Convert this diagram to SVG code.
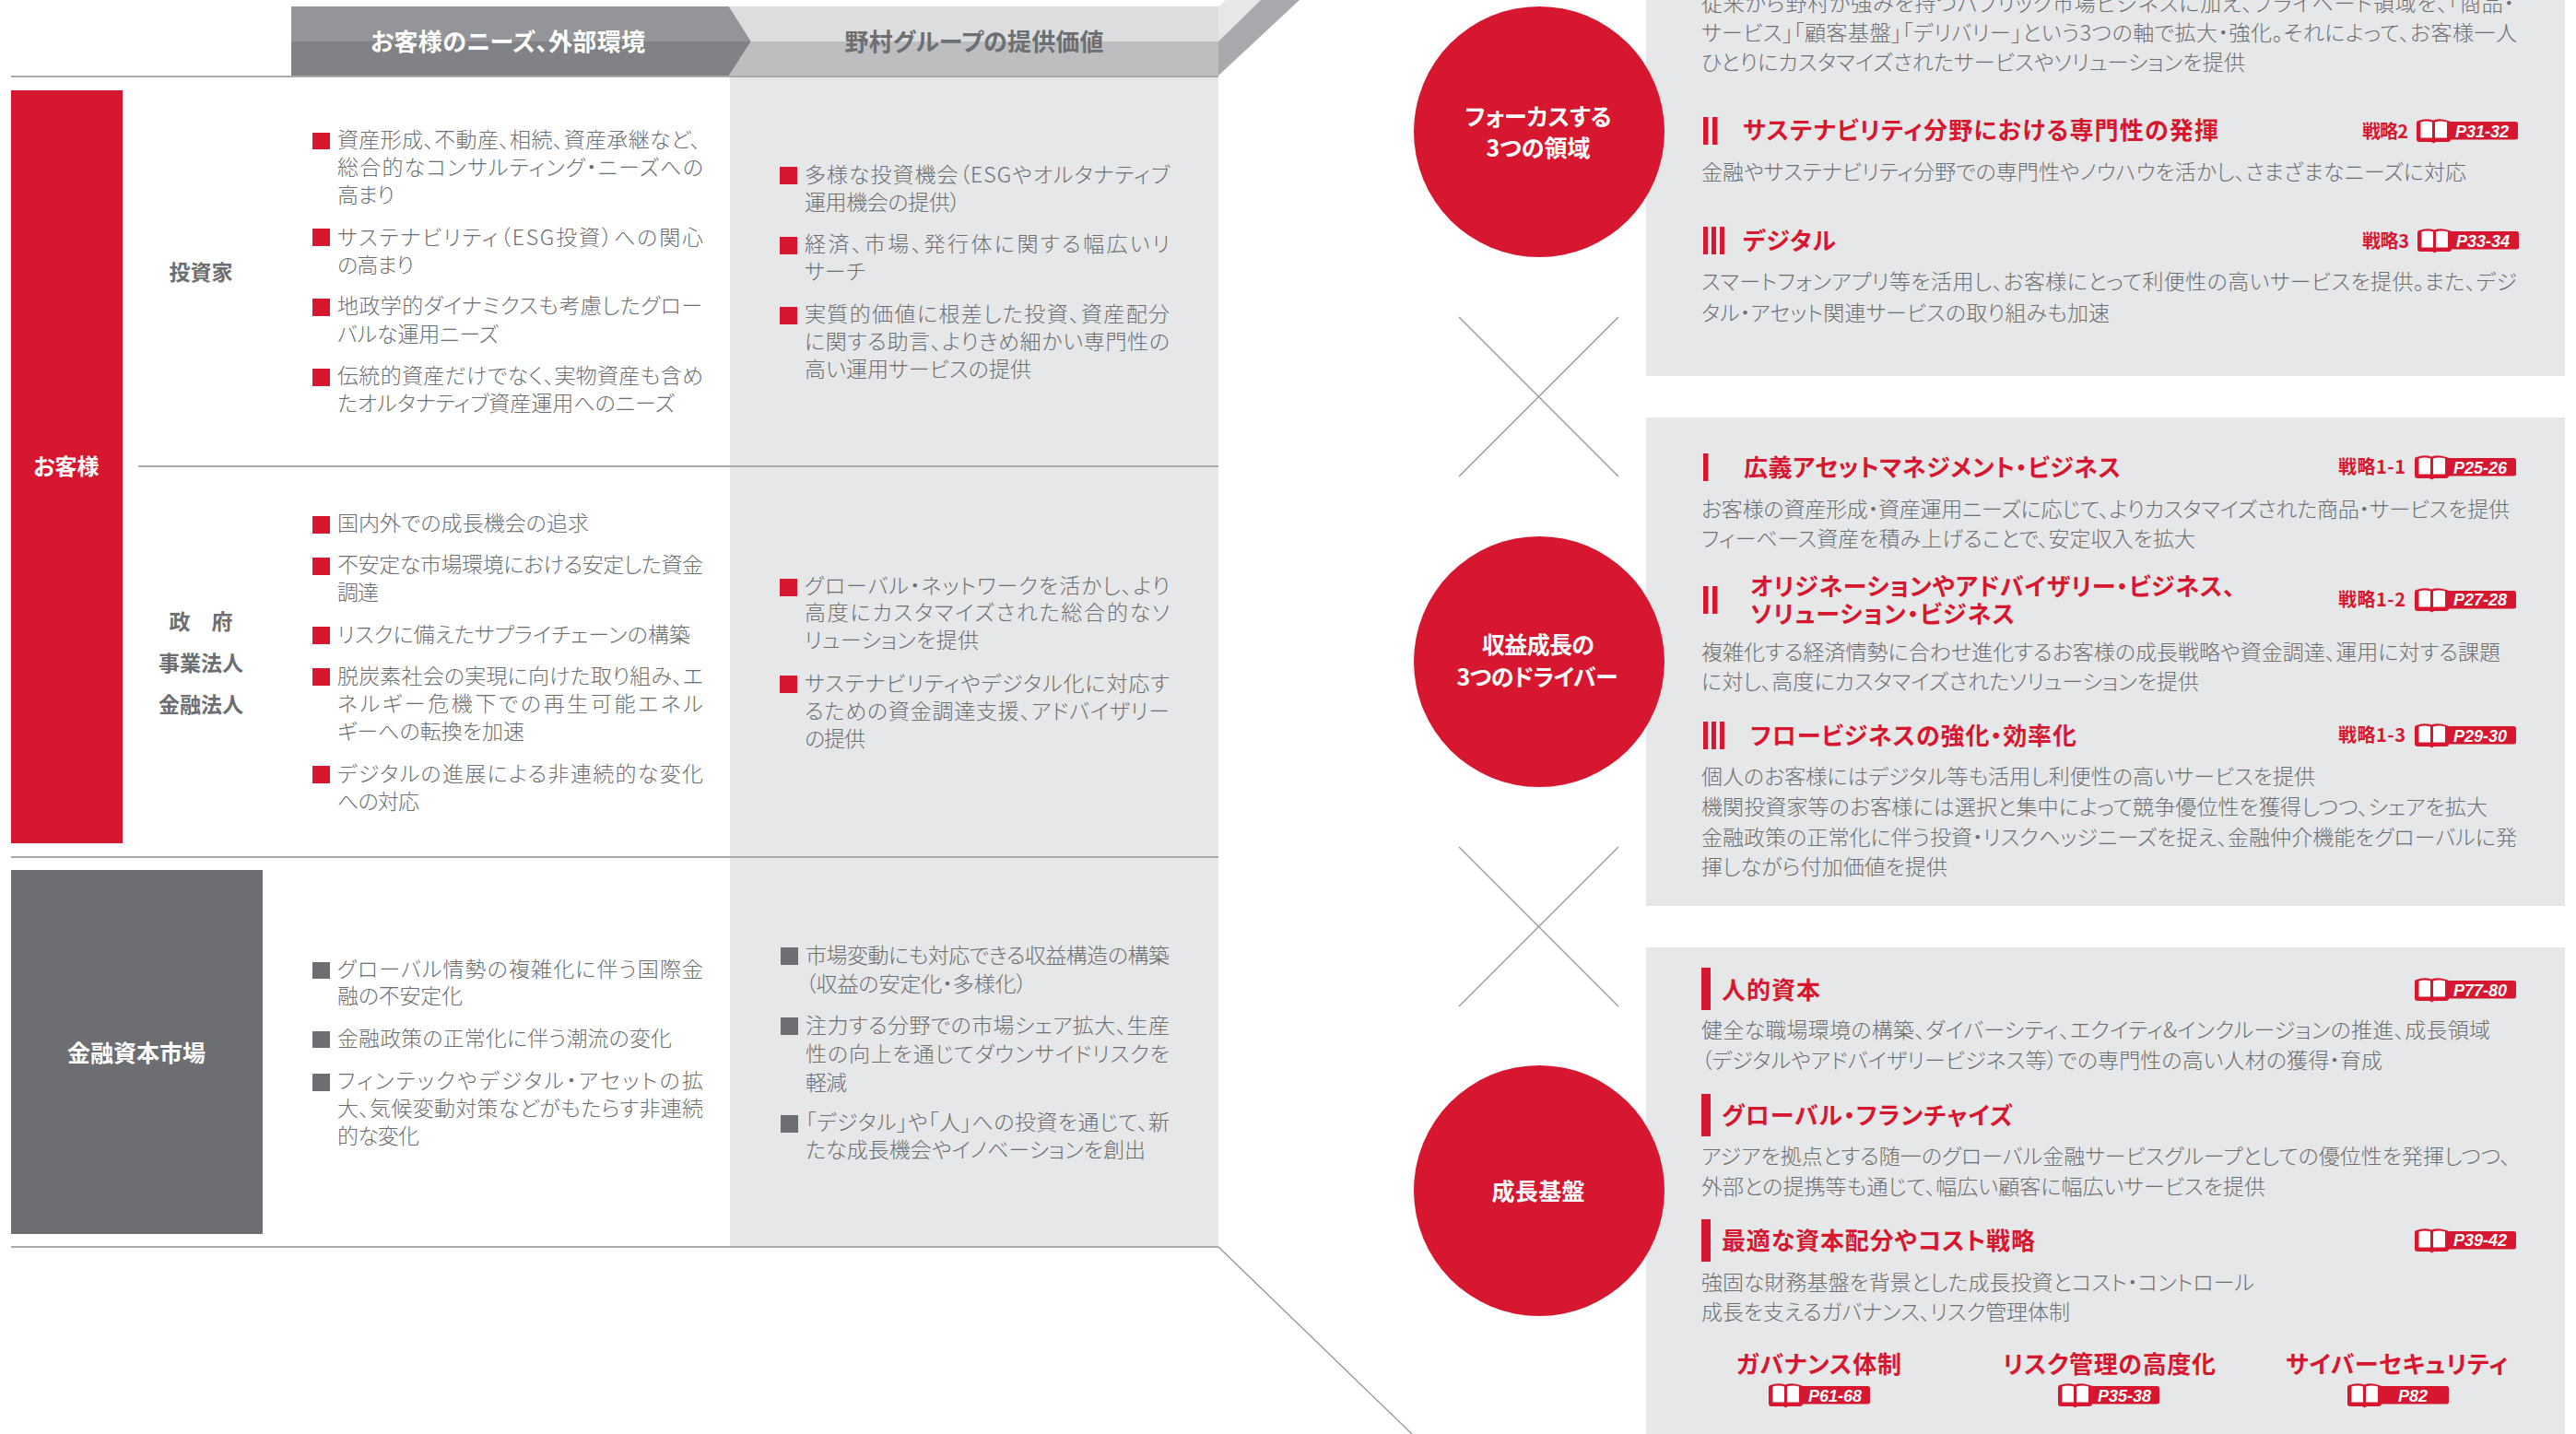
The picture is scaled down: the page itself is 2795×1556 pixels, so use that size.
<svg xmlns="http://www.w3.org/2000/svg" width="2795" height="1556" viewBox="0 0 2795 1556">
<style>
text{font-family:"Noto Sans CJK JP","Noto Sans",sans-serif;font-feature-settings:"palt"}
.b{font-size:23px;fill:#6d6e71;font-weight:300}
.h{font-size:26px;fill:#d7172f;font-weight:700}
.l{font-size:23px;fill:#6d6e71;font-weight:700;text-anchor:middle}
.w{font-size:25px;fill:#fff;font-weight:700;text-anchor:middle}
.s{font-size:20px;fill:#d7172f;font-weight:700}
.p{font-family:"Liberation Sans",Arial,sans-serif;font-size:18px;font-weight:700;font-style:italic;fill:#fff;text-anchor:middle}
.r{fill:#d7172f}
.g{fill:#6d6e71}
.rule{stroke:#a7a9ac;stroke-width:2;fill:none}
.thin{stroke:#939598;stroke-width:1.3;fill:none}
.pn{fill:#e6e7e8}
</style>
<defs>
<g id="book">
<rect x="30" y="3" width="80" height="19.500" rx="2.500" class="r"/>
<path d="M2 2Q10 -1 18 1.500Q26 -1 34 2Q37 2 37 5V22Q37 25 34 25H21L18.500 26.500L16 25H3Q0 25 0 22V5Q0 2 2 2Z" class="r"/>
<path d="M4.500 3.500Q11 1.500 17 3.500V20.500H4.500ZM20 3.500Q26 1.500 33 3.500V20.500H20Z" fill="#fff"/>
</g>
</defs>
<rect width="2795" height="1556" fill="#fff"/>

<g id="table-bg">
<rect class="pn" x="792" y="83" width="530" height="1270"/>
</g>

<g id="header">
<path d="M316 7H791L815 45H316Z" fill="#939598"/>
<path d="M316 45H815L791 82H316Z" fill="#808285"/>
<path d="M791 7H1322V45H815Z" fill="#dcddde"/>
<path d="M815 45H1322V82H791Z" fill="#bcbec0"/>
<path d="M1322 7L1330 0H1368L1322 45Z" fill="#e6e7e8"/>
<path d="M1322 45L1368 0H1410L1322 82Z" fill="#a7a9ac"/>
<text class="w" x="551" y="55" textLength="298" style="font-size:26px">お客様のニーズ、外部環境</text>
<text class="l" x="1057" y="55" textLength="281" style="font-size:26px">野村グループの提供価値</text>
</g>

<g id="connectors">
<line class="rule" x1="12" y1="83" x2="1322" y2="83"/>
<line class="rule" x1="150" y1="506" x2="1322" y2="506"/>
<line class="rule" x1="12" y1="930" x2="1322" y2="930"/>
<line class="rule" x1="12" y1="1353" x2="1322" y2="1353"/>
<line class="thin" x1="1322" y1="1353" x2="1532" y2="1556"/>
<line class="thin" x1="1583" y1="344" x2="1756" y2="517"/>
<line class="thin" x1="1756" y1="344" x2="1583" y2="517"/>
<line class="thin" x1="1583" y1="919" x2="1756" y2="1092"/>
<line class="thin" x1="1756" y1="919" x2="1583" y2="1092"/>
</g>

<g id="customer">
<rect class="r" x="12" y="98" width="121" height="817"/>
<text class="w" x="72" y="515" style="font-size:24px">お客様</text>
</g>
<g id="market">
<rect class="g" x="12" y="944" width="273" height="395"/>
<text class="w" x="148" y="1152">金融資本市場</text>
</g>

<g id="investors">
<text class="l" x="218" y="304">投資家</text>
<g class="r"><rect x="339" y="144" width="19" height="18"/><rect x="339" y="248" width="19" height="19"/><rect x="339" y="324" width="19" height="19"/><rect x="339" y="400" width="19" height="19"/></g>
<text class="b" x="366" y="160" textLength="394">資産形成、不動産、相続、資産承継など、</text>
<text class="b" x="366" y="190" textLength="397">総合的なコンサルティング・ニーズへの</text>
<text class="b" x="366" y="220" textLength="62">高まり</text>
<text class="b" x="366" y="266" textLength="397">サステナビリティ（ESG投資）への関心</text>
<text class="b" x="366" y="296" textLength="83">の高まり</text>
<text class="b" x="366" y="340" textLength="396">地政学的ダイナミクスも考慮したグロー</text>
<text class="b" x="366" y="371" textLength="175">バルな運用ニーズ</text>
<text class="b" x="366" y="416" textLength="397">伝統的資産だけでなく、実物資産も含め</text>
<text class="b" x="366" y="446" textLength="366">たオルタナティブ資産運用へのニーズ</text>
<g class="r"><rect x="846" y="181" width="19" height="19"/><rect x="846" y="257" width="19" height="19"/><rect x="846" y="333" width="19" height="19"/></g>
<text class="b" x="873" y="198" textLength="396">多様な投資機会（ESGやオルタナティブ</text>
<text class="b" x="873" y="228" textLength="169">運用機会の提供）</text>
<text class="b" x="873" y="273" textLength="396">経済、市場、発行体に関する幅広いリ</text>
<text class="b" x="873" y="303" textLength="66">サーチ</text>
<text class="b" x="873" y="349" textLength="396">実質的価値に根差した投資、資産配分</text>
<text class="b" x="873" y="379" textLength="396">に関する助言、よりきめ細かい専門性の</text>
<text class="b" x="873" y="409" textLength="246">高い運用サービスの提供</text>
</g>

<g id="corporates">
<text class="l" x="218" y="683" xml:space="preserve">政　府</text>
<text class="l" x="218" y="728">事業法人</text>
<text class="l" x="218" y="773">金融法人</text>
<g class="r"><rect x="339" y="560" width="19" height="19"/><rect x="339" y="605" width="19" height="19"/><rect x="339" y="680" width="19" height="19"/><rect x="339" y="725" width="19" height="19"/><rect x="339" y="831" width="19" height="19"/></g>
<text class="b" x="366" y="576" textLength="273">国内外での成長機会の追求</text>
<text class="b" x="366" y="621" textLength="397">不安定な市場環境における安定した資金</text>
<text class="b" x="366" y="651" textLength="45">調達</text>
<text class="b" x="366" y="697" textLength="383">リスクに備えたサプライチェーンの構築</text>
<text class="b" x="366" y="742" textLength="397">脱炭素社会の実現に向けた取り組み、エ</text>
<text class="b" x="366" y="772" textLength="397">ネルギー危機下での再生可能エネル</text>
<text class="b" x="366" y="802" textLength="203">ギーへの転換を加速</text>
<text class="b" x="366" y="848" textLength="397">デジタルの進展による非連続的な変化</text>
<text class="b" x="366" y="878" textLength="89">への対応</text>
<g class="r"><rect x="846" y="628" width="19" height="19"/><rect x="846" y="733" width="19" height="19"/></g>
<text class="b" x="873" y="644" textLength="396">グローバル・ネットワークを活かし、より</text>
<text class="b" x="873" y="673" textLength="396">高度にカスタマイズされた総合的なソ</text>
<text class="b" x="873" y="703" textLength="189">リューションを提供</text>
<text class="b" x="873" y="750" textLength="396">サステナビリティやデジタル化に対応す</text>
<text class="b" x="873" y="780" textLength="396">るための資金調達支援、アドバイザリー</text>
<text class="b" x="873" y="810" textLength="66">の提供</text>
</g>

<g id="capital-market">
<g class="g"><rect x="339" y="1044" width="19" height="18"/><rect x="339" y="1119" width="19" height="18"/><rect x="339" y="1165" width="19" height="19"/><rect x="847" y="1028" width="19" height="19"/><rect x="847" y="1104" width="19" height="19"/><rect x="847" y="1210" width="19" height="19"/></g>
<text class="b" x="366" y="1060" textLength="397">グローバル情勢の複雑化に伴う国際金</text>
<text class="b" x="366" y="1089" textLength="136">融の不安定化</text>
<text class="b" x="366" y="1135" textLength="363">金融政策の正常化に伴う潮流の変化</text>
<text class="b" x="366" y="1181" textLength="397">フィンテックやデジタル・アセットの拡</text>
<text class="b" x="366" y="1211" textLength="397">大、気候変動対策などがもたらす非連続</text>
<text class="b" x="366" y="1241" textLength="89">的な変化</text>
<text class="b" x="874" y="1045" textLength="395">市場変動にも対応できる収益構造の構築</text>
<text class="b" x="874" y="1076" textLength="240">（収益の安定化・多様化）</text>
<text class="b" x="874" y="1121" textLength="395">注力する分野での市場シェア拡大、生産</text>
<text class="b" x="874" y="1152" textLength="395">性の向上を通じてダウンサイドリスクを</text>
<text class="b" x="874" y="1183" textLength="45">軽減</text>
<text class="b" x="874" y="1226" textLength="395">「デジタル」や「人」への投資を通じて、新</text>
<text class="b" x="874" y="1256" textLength="369">たな成長機会やイノベーションを創出</text>
</g>

<g id="focus-panel">
<rect class="pn" x="1786" y="0" width="997" height="408"/>
<text class="b" x="1846" y="12" textLength="882">従来から野村が強みを持つパブリック市場ビジネスに加え、プライベート領域を、「商品・</text>
<text class="b" x="1846" y="44" textLength="885">サービス」「顧客基盤」「デリバリー」という3つの軸で拡大・強化。それによって、お客様一人</text>
<text class="b" x="1846" y="76" textLength="590">ひとりにカスタマイズされたサービスやソリューションを提供</text>
<g class="r"><rect x="1848" y="127" width="5.500" height="30"/><rect x="1858" y="127" width="5.500" height="30"/><rect x="1848" y="246" width="5" height="30"/><rect x="1857" y="246" width="5" height="30"/><rect x="1866" y="246" width="5" height="30"/></g>
<text class="h" x="1891" y="151" textLength="516">サステナビリティ分野における専門性の発揮</text>
<text class="s" x="2563" y="150" textLength="50">戦略2</text>
<use href="#book" x="2622" y="129"/>
<text class="p" x="2693" y="149">P31-32</text>
<text class="b" x="1846" y="195" textLength="830">金融やサステナビリティ分野での専門性やノウハウを活かし、さまざまなニーズに対応</text>
<text class="h" x="1891" y="271" textLength="101">デジタル</text>
<text class="s" x="2563" y="269" textLength="51">戦略3</text>
<use href="#book" x="2623" y="248"/>
<text class="p" x="2694" y="268">P33-34</text>
<text class="b" x="1846" y="314" textLength="885">スマートフォンアプリ等を活用し、お客様にとって利便性の高いサービスを提供。また、デジ</text>
<text class="b" x="1846" y="348" textLength="443">タル・アセット関連サービスの取り組みも加速</text>
</g>
<g id="focus-circle">
<circle class="r" cx="1670" cy="143" r="136"/>
<text class="w" x="1669" y="136" textLength="159">フォーカスする</text>
<text class="w" x="1669" y="170" textLength="113">3つの領域</text>
</g>

<g id="driver-panel">
<rect class="pn" x="1786" y="453" width="997" height="530"/>
<rect class="r" x="1848" y="492" width="5.500" height="30"/>
<text class="h" x="1892" y="517" textLength="409">広義アセットマネジメント・ビジネス</text>
<text class="s" x="2537" y="514" textLength="73">戦略1-1</text>
<use href="#book" x="2620" y="494"/>
<text class="p" x="2691" y="514">P25-26</text>
<text class="b" x="1846" y="561" textLength="877">お客様の資産形成・資産運用ニーズに応じて、よりカスタマイズされた商品・サービスを提供</text>
<text class="b" x="1846" y="593" textLength="536">フィーベース資産を積み上げることで、安定収入を拡大</text>
<g class="r"><rect x="1848" y="636" width="5.500" height="30"/><rect x="1858" y="636" width="5.500" height="30"/></g>
<text class="h" x="1899" y="646" textLength="526">オリジネーションやアドバイザリー・ビジネス、</text>
<text class="h" x="1899" y="676" textLength="287">ソリューション・ビジネス</text>
<text class="s" x="2537" y="658" textLength="73">戦略1-2</text>
<use href="#book" x="2620" y="638"/>
<text class="p" x="2691" y="657">P27-28</text>
<text class="b" x="1846" y="716" textLength="867">複雑化する経済情勢に合わせ進化するお客様の成長戦略や資金調達、運用に対する課題</text>
<text class="b" x="1846" y="748" textLength="540">に対し、高度にカスタマイズされたソリューションを提供</text>
<g class="r"><rect x="1848" y="783" width="5" height="30"/><rect x="1857" y="783" width="5" height="30"/><rect x="1866" y="783" width="5" height="30"/></g>
<text class="h" x="1899" y="808" textLength="354">フロービジネスの強化・効率化</text>
<text class="s" x="2537" y="805" textLength="73">戦略1-3</text>
<use href="#book" x="2620" y="785"/>
<text class="p" x="2691" y="805">P29-30</text>
<text class="b" x="1846" y="851" textLength="666">個人のお客様にはデジタル等も活用し利便性の高いサービスを提供</text>
<text class="b" x="1846" y="884" textLength="853">機関投資家等のお客様には選択と集中によって競争優位性を獲得しつつ、シェアを拡大</text>
<text class="b" x="1846" y="917" textLength="885">金融政策の正常化に伴う投資・リスクヘッジニーズを捉え、金融仲介機能をグローバルに発</text>
<text class="b" x="1846" y="949" textLength="267">揮しながら付加価値を提供</text>
</g>
<g id="driver-circle">
<circle class="r" cx="1670" cy="718" r="136"/>
<text class="w" x="1669" y="709" textLength="122">収益成長の</text>
<text class="w" x="1668" y="744" textLength="175">3つのドライバー</text>
</g>

<g id="foundation-panel">
<rect class="pn" x="1786" y="1028" width="997" height="528"/>
<g class="r"><rect x="1846" y="1050" width="10" height="46"/><rect x="1846" y="1187" width="10" height="46"/><rect x="1846" y="1323" width="10" height="46"/></g>
<text class="h" x="1868" y="1084" textLength="107">人的資本</text>
<use href="#book" x="2620" y="1061"/>
<text class="p" x="2691" y="1081">P77-80</text>
<text class="b" x="1846" y="1126" textLength="856">健全な職場環境の構築、ダイバーシティ、エクイティ&amp;インクルージョンの推進、成長領域</text>
<text class="b" x="1846" y="1159" textLength="739">（デジタルやアドバイザリービジネス等）での専門性の高い人材の獲得・育成</text>
<text class="h" x="1868" y="1220" textLength="316">グローバル・フランチャイズ</text>
<text class="b" x="1846" y="1263" textLength="878">アジアを拠点とする随一のグローバル金融サービスグループとしての優位性を発揮しつつ、</text>
<text class="b" x="1846" y="1296" textLength="612">外部との提携等も通じて、幅広い顧客に幅広いサービスを提供</text>
<text class="h" x="1868" y="1356" textLength="340">最適な資本配分やコスト戦略</text>
<use href="#book" x="2620" y="1333"/>
<text class="p" x="2691" y="1352">P39-42</text>
<text class="b" x="1846" y="1400" textLength="600">強固な財務基盤を背景とした成長投資とコスト・コントロール</text>
<text class="b" x="1846" y="1432" textLength="400">成長を支えるガバナンス、リスク管理体制</text>
<text class="h" x="1884" y="1490" textLength="179">ガバナンス体制</text>
<use href="#book" x="1919" y="1501"/>
<text class="p" x="1991" y="1521">P61-68</text>
<text class="h" x="2173" y="1490" textLength="231">リスク管理の高度化</text>
<use href="#book" x="2233" y="1501"/>
<text class="p" x="2305" y="1521">P35-38</text>
<text class="h" x="2480" y="1490" textLength="241">サイバーセキュリティ</text>
<use href="#book" x="2547" y="1501"/>
<text class="p" x="2618" y="1521">P82</text>
</g>
<g id="foundation-circle">
<circle class="r" cx="1670" cy="1292" r="136"/>
<text class="w" x="1669" y="1302" textLength="101">成長基盤</text>
</g>
</svg>
